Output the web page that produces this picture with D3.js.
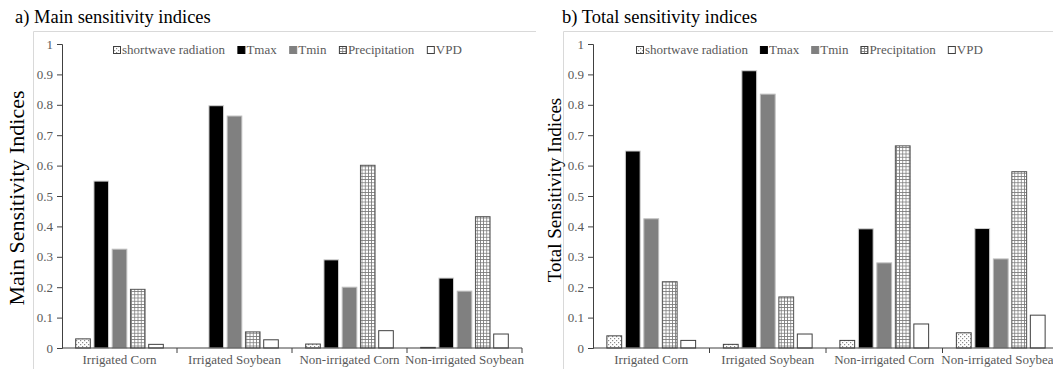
<!DOCTYPE html>
<html>
<head>
<meta charset="utf-8">
<script src="https://d3js.org/d3.v7.min.js"></script>
<style>
  body { margin: 0; background: #fff; }
  svg { display: block; }
  svg text { font-family: "Liberation Serif", "Times New Roman", serif; }
</style>
</head>
<body>
<div id="chart"></div>
<script>
// data
var categories = ["Irrigated Corn", "Irrigated Soybean", "Non-irrigated Corn", "Non-irrigated Soybean"]
var series = ["shortwave radiation", "Tmax", "Tmin", "Precipitation", "VPD"]
var yTicks = [0, 0.1, 0.2, 0.3, 0.4, 0.5, 0.6, 0.7, 0.8, 0.9, 1]

// one array per series, values in category order
var mainShortwave = [0.030, 0.000, 0.013, 0.002]
var mainTmax      = [0.549, 0.797, 0.290, 0.230]
var mainTmin      = [0.325, 0.763, 0.200, 0.187]
var mainPrecip    = [0.193, 0.053, 0.601, 0.432]
var mainVPD       = [0.012, 0.027, 0.057, 0.046]

var totalShortwave = [0.040, 0.012, 0.025, 0.050]
var totalTmax      = [0.648, 0.912, 0.392, 0.393]
var totalTmin      = [0.425, 0.835, 0.280, 0.293]
var totalPrecip    = [0.218, 0.168, 0.665, 0.580]
var totalVPD       = [0.025, 0.046, 0.079, 0.108]

var W = 1053, H = 369
var serif = "Liberation Serif, Times New Roman, serif"

var svg = d3.select("#chart").append("svg")
  .attr("width", W).attr("height", H)
  .attr("font-family", serif)

// patterns
var defs = svg.append("defs")
var dots = defs.append("pattern").attr("id", "dots")
  .attr("patternUnits", "userSpaceOnUse").attr("width", 4).attr("height", 4)
dots.append("rect").attr("width", 4).attr("height", 4).attr("fill", "#fff")
dots.append("rect").attr("x", 0).attr("y", 0).attr("width", 1.2).attr("height", 1.2).attr("fill", "#8c8c8c")
dots.append("rect").attr("x", 2).attr("y", 2).attr("width", 1.2).attr("height", 1.2).attr("fill", "#8c8c8c")

var grid = defs.append("pattern").attr("id", "grid")
  .attr("patternUnits", "userSpaceOnUse").attr("width", 3.2).attr("height", 3.2)
grid.append("rect").attr("width", 3.2).attr("height", 3.2).attr("fill", "#fff")
grid.append("path").attr("d", "M0,0.4H3.2M0.4,0V3.2")
  .attr("stroke", "#7a7a7a").attr("stroke-width", 0.8)

var fills   = ["url(#dots)", "#000", "#808080", "url(#grid)", "#fff"]
var strokes = ["#404040", "#d0d0d0", "#bdbdbd", "#555", "#404040"]

function drawPanel(opt) {
  var g = svg.append("g")

  // faint frame of the chart area
  g.append("path")
    .attr("d", "M" + opt.frameX + "," + H + "V31.5H" + opt.frameEnd)
    .attr("fill", "none").attr("stroke", "#d9d9d9").attr("stroke-width", 1)

  g.append("text")
    .attr("x", opt.titleX).attr("y", 23)
    .attr("font-size", 18.5).attr("fill", "#000")
    .text(opt.title)

  var x = d3.scaleBand().domain(categories)
    .range([opt.x0, opt.x0 + opt.band * categories.length])
    .paddingInner(0).paddingOuter(0)
  var y = d3.scaleLinear().domain([0, 1]).range([348, 44])
  var xs = d3.scaleBand().domain(series)
    .range([0, x.bandwidth()]).paddingInner(0.2).paddingOuter(0.75)

  // y axis
  var yAxis = d3.axisLeft(y).tickValues(yTicks).tickSize(5).tickPadding(4)
    .tickFormat(function(d) { return d3.format("")(+d.toFixed(1)) })
  var ya = g.append("g").attr("transform", "translate(" + opt.x0 + ",0)").call(yAxis)
    .attr("font-family", serif).attr("font-size", 13)
  ya.select(".domain").attr("stroke", "#404040")
  ya.selectAll(".tick line").attr("stroke", "#404040")
  ya.selectAll("text").attr("fill", "#595959")

  // bars
  opt.values.forEach(function(vals, si) {
    g.append("g").selectAll("rect")
      .data(vals).enter().append("rect")
        .attr("x", function(d, i) { return x(categories[i]) + xs(series[si]) })
        .attr("y", function(d) { return y(d) })
        .attr("width", xs.bandwidth())
        .attr("height", function(d) { return y(0) - y(d) })
        .attr("fill", fills[si])
        .attr("stroke", strokes[si])
        .attr("stroke-width", 1)
  })

  // x axis with ticks at category boundaries
  var xa = g.append("g").attr("transform", "translate(0," + y(0) + ")")
  xa.append("line").attr("x1", opt.x0).attr("x2", opt.x0 + opt.band * categories.length)
    .attr("stroke", "#404040")
  xa.selectAll(".bt").data(categories).enter().append("line")
    .attr("x1", function(d) { return x(d) + x.bandwidth() })
    .attr("x2", function(d) { return x(d) + x.bandwidth() })
    .attr("y1", 0).attr("y2", 5).attr("stroke", "#404040")
  xa.selectAll(".lbl").data(categories).enter().append("text")
    .attr("x", function(d) { return x(d) + x.bandwidth() / 2 })
    .attr("y", 16).attr("text-anchor", "middle")
    .attr("font-size", 13).attr("fill", "#595959")
    .text(function(d) { return d })

  // y title
  g.append("text")
    .attr("transform", "translate(" + opt.yTitleX + "," + opt.yTitleY + ") rotate(-90)")
    .attr("text-anchor", "middle").attr("font-size", opt.yTitleSize)
    .attr("fill", "#000")
    .text(opt.yTitle)

  // legend
  var lx = opt.legendX
  series.forEach(function(s, si) {
    g.append("rect").attr("x", lx + 0.5).attr("y", 46.5).attr("width", 7).attr("height", 7)
      .attr("fill", fills[si]).attr("stroke", si == 1 ? "#000" : (si == 2 ? "#808080" : "#404040"))
    var t = g.append("text").attr("x", lx + 9).attr("y", 54)
      .attr("font-size", 13).attr("fill", "#595959").text(s)
    lx += 9 + t.node().getComputedTextLength() + opt.legendGap
  })
}

drawPanel({
  title: "a) Main sensitivity indices", titleX: 15,
  frameX: 33.5, frameEnd: 536,
  x0: 62, band: 115,
  yTitle: "Main Sensitivity Indices", yTitleX: 24, yTitleY: 198, yTitleSize: 22,
  legendX: 113, legendGap: 12.5,
  values: [mainShortwave, mainTmax, mainTmin, mainPrecip, mainVPD]
})

drawPanel({
  title: "b) Total sensitivity indices", titleX: 562,
  frameX: 563.5, frameEnd: W,
  x0: 593, band: 116.5,
  yTitle: "Total Sensitivity Indices", yTitleX: 561, yTitleY: 190, yTitleSize: 19,
  legendX: 636, legendGap: 12,
  values: [totalShortwave, totalTmax, totalTmin, totalPrecip, totalVPD]
})
</script>
</body>
</html>
